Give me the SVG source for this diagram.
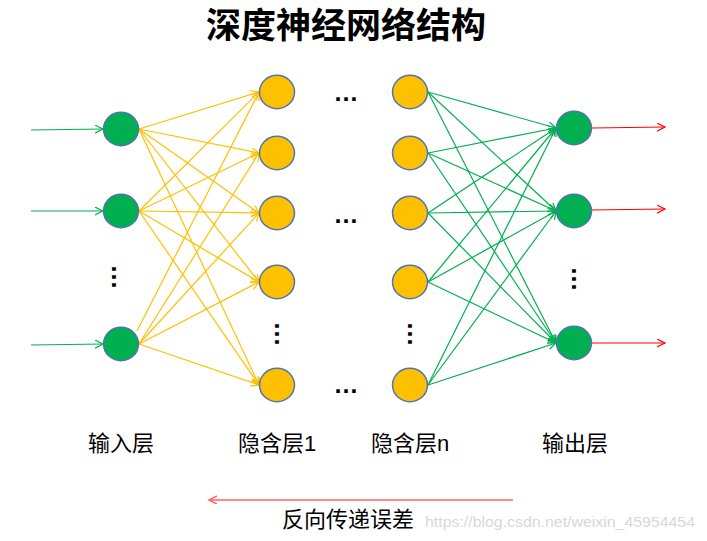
<svg xmlns="http://www.w3.org/2000/svg" width="707" height="541" viewBox="0 0 707 541">
<defs>
<style>
.in{fill:#00B050;stroke:#4F74B4;stroke-width:1.5}
.hid{fill:#FFC000;stroke:#4F74B4;stroke-width:1.5}
.y{stroke:#FFC000;stroke-width:1.2;fill:none;marker-end:url(#ay)}
.g{stroke:#00B050;stroke-width:1.2;fill:none;marker-end:url(#ag)}
.r{stroke:#FF0000;stroke-width:1.2;fill:none;marker-end:url(#ar)}
.t{font-family:"Liberation Sans","Noto Sans CJK SC",sans-serif;fill:#000}
.lbl{font-size:22px;text-anchor:middle}
.dots{font-family:"Liberation Sans",sans-serif;font-weight:bold;font-size:25px;fill:#000;text-anchor:middle}
</style>
<marker id="ay" markerWidth="10" markerHeight="10" refX="8" refY="4" orient="auto" markerUnits="userSpaceOnUse"><path d="M0,0 L8,4 L0,8" fill="none" stroke="#FFC000" stroke-width="1.2"/></marker>
<marker id="ag" markerWidth="10" markerHeight="10" refX="8" refY="4" orient="auto" markerUnits="userSpaceOnUse"><path d="M0,0 L8,4 L0,8" fill="none" stroke="#00B050" stroke-width="1.2"/></marker>
<marker id="ar" markerWidth="10" markerHeight="10" refX="8" refY="4" orient="auto" markerUnits="userSpaceOnUse"><path d="M0,0 L8,4 L0,8" fill="none" stroke="#FF0000" stroke-width="1.2"/></marker>
<marker id="arb" markerWidth="10" markerHeight="10" refX="8" refY="4" orient="auto" markerUnits="userSpaceOnUse"><path d="M0,0 L8,4 L0,8" fill="none" stroke="#FF6060" stroke-width="1.5"/></marker>
</defs>
<rect width="707" height="541" fill="#fff"/>
<text class="t" x="346" y="38" font-size="35" font-weight="bold" text-anchor="middle">深度神经网络结构</text>
<g id="connectors">
<line class="g" x1="31" y1="130" x2="103" y2="129"/>
<line class="g" x1="31" y1="211" x2="103" y2="211"/>
<line class="g" x1="31" y1="345" x2="103" y2="344"/>
<line class="y" x1="139" y1="129" x2="259" y2="92"/>
<line class="y" x1="139" y1="129" x2="259" y2="153"/>
<line class="y" x1="139" y1="129" x2="259" y2="213"/>
<line class="y" x1="139" y1="129" x2="259" y2="282"/>
<line class="y" x1="139" y1="129" x2="259" y2="385"/>
<line class="y" x1="139" y1="211" x2="259" y2="92"/>
<line class="y" x1="139" y1="211" x2="259" y2="153"/>
<line class="y" x1="139" y1="211" x2="259" y2="213"/>
<line class="y" x1="139" y1="211" x2="259" y2="282"/>
<line class="y" x1="139" y1="211" x2="259" y2="385"/>
<line class="y" x1="137" y1="331" x2="259" y2="92"/>
<line class="y" x1="139" y1="344" x2="259" y2="153"/>
<line class="y" x1="139" y1="344" x2="259" y2="213"/>
<line class="y" x1="139" y1="344" x2="259" y2="282"/>
<line class="y" x1="139" y1="344" x2="259" y2="385"/>
<line class="g" x1="428" y1="92" x2="556" y2="128"/>
<line class="g" x1="428" y1="92" x2="556" y2="211"/>
<line class="g" x1="428" y1="92" x2="556" y2="343"/>
<line class="g" x1="428" y1="153" x2="556" y2="128"/>
<line class="g" x1="428" y1="153" x2="556" y2="211"/>
<line class="g" x1="428" y1="153" x2="556" y2="343"/>
<line class="g" x1="428" y1="213" x2="556" y2="128"/>
<line class="g" x1="428" y1="213" x2="556" y2="211"/>
<line class="g" x1="428" y1="213" x2="556" y2="343"/>
<line class="g" x1="428" y1="282" x2="556" y2="128"/>
<line class="g" x1="428" y1="282" x2="556" y2="211"/>
<line class="g" x1="428" y1="282" x2="556" y2="343"/>
<line class="g" x1="428" y1="385" x2="556" y2="128"/>
<line class="g" x1="428" y1="385" x2="556" y2="211"/>
<line class="g" x1="428" y1="385" x2="556" y2="343"/>
<line class="r" x1="592" y1="128" x2="665" y2="127"/>
<line class="r" x1="592" y1="210" x2="665" y2="209"/>
<line class="r" x1="592" y1="343" x2="665" y2="343"/>
<line x1="513" y1="500" x2="209" y2="500" stroke="#FF6060" stroke-width="1.5" marker-end="url(#arb)"/>
</g>
<g id="input-layer">
<ellipse class="in" cx="121" cy="129" rx="17.5" ry="16.7"/>
<ellipse class="in" cx="121" cy="211" rx="17.5" ry="16.7"/>
<ellipse class="in" cx="121" cy="344" rx="17.5" ry="16.7"/>
<text class="dots" transform="translate(112,277) rotate(90)">…</text>
</g>
<g id="hidden-layer-1">
<ellipse class="hid" cx="277" cy="92" rx="17.5" ry="16.7"/>
<ellipse class="hid" cx="277" cy="153" rx="17.5" ry="16.7"/>
<ellipse class="hid" cx="277" cy="213" rx="17.5" ry="16.7"/>
<ellipse class="hid" cx="277" cy="282" rx="17.5" ry="16.7"/>
<ellipse class="hid" cx="277" cy="385" rx="17.5" ry="16.7"/>
<text class="dots" transform="translate(275,334) rotate(90)">…</text>
</g>
<g id="middle-dots">
<text class="dots" x="346" y="101">…</text>
<text class="dots" x="346" y="223">…</text>
<text class="dots" x="346" y="393">…</text>
</g>
<g id="hidden-layer-n">
<ellipse class="hid" cx="410" cy="92" rx="17.5" ry="16.7"/>
<ellipse class="hid" cx="410" cy="153" rx="17.5" ry="16.7"/>
<ellipse class="hid" cx="410" cy="213" rx="17.5" ry="16.7"/>
<ellipse class="hid" cx="410" cy="282" rx="17.5" ry="16.7"/>
<ellipse class="hid" cx="410" cy="385" rx="17.5" ry="16.7"/>
<text class="dots" transform="translate(408,334) rotate(90)">…</text>
</g>
<g id="output-layer">
<ellipse class="in" cx="574" cy="128" rx="17.5" ry="16.7"/>
<ellipse class="in" cx="574" cy="211" rx="17.5" ry="16.7"/>
<ellipse class="in" cx="574" cy="343" rx="17.5" ry="16.7"/>
<text class="dots" transform="translate(572,279) rotate(90)">…</text>
</g>
<g id="labels">
<text class="t lbl" x="121" y="451">输入层</text>
<text class="t lbl" x="277" y="451">隐含层1</text>
<text class="t lbl" x="410" y="451">隐含层n</text>
<text class="t lbl" x="575" y="451">输出层</text>
<text class="t lbl" x="348" y="527">反向传递误差</text>
<text x="425" y="527" font-family="Liberation Sans,sans-serif" font-size="15" fill="#D8D8D8" textLength="270" lengthAdjust="spacingAndGlyphs">https://blog.csdn.net/weixin_45954454</text>
</g>
</svg>
